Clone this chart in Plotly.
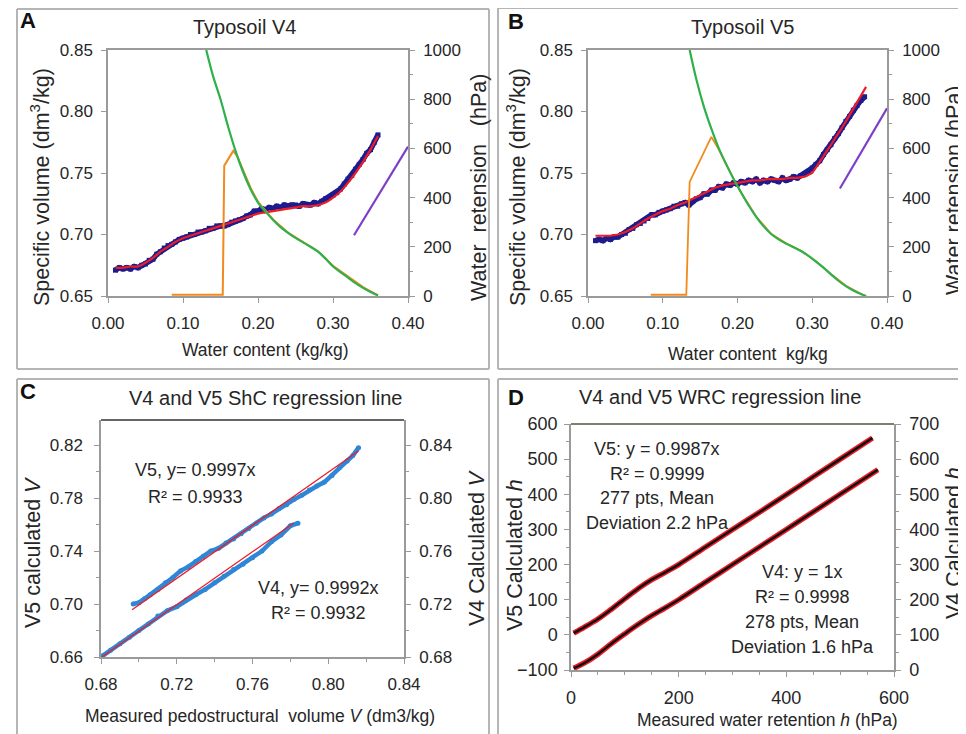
import plotly.graph_objects as go

W, H = 966, 734
OFF = 8  # the page body adds an 8px margin; reference pixel positions are shifted by it
FONT = "Liberation Sans, Arial, sans-serif"
TXT = "#262626"
AXC = "#9a9a9a"

# ---------------- Panel A (Typosoil V4) ----------------
A_fit_wc = [0.01, 0.02, 0.03, 0.04, 0.05, 0.06, 0.07, 0.08, 0.09, 0.10, 0.11, 0.12,
            0.13, 0.14, 0.15, 0.16, 0.17, 0.18, 0.19, 0.20, 0.21, 0.22, 0.23, 0.24,
            0.25, 0.26, 0.27, 0.28, 0.29, 0.30, 0.31, 0.32, 0.33, 0.34, 0.35, 0.36]
A_fit_vol = [0.673, 0.673, 0.674, 0.674, 0.677, 0.681, 0.686, 0.690, 0.694, 0.697, 0.699, 0.701,
             0.703, 0.705, 0.707, 0.709, 0.711, 0.713, 0.715, 0.717, 0.718, 0.719, 0.720, 0.721,
             0.722, 0.723, 0.723, 0.724, 0.726, 0.730, 0.735, 0.742, 0.750, 0.759, 0.769, 0.780]
A_meas_wc = [0.010, 0.015, 0.020, 0.025, 0.030, 0.035, 0.040, 0.045, 0.050, 0.055, 0.060, 0.065,
             0.070, 0.075, 0.080, 0.085, 0.090, 0.095, 0.100, 0.105, 0.110, 0.115, 0.120, 0.125,
             0.130, 0.135, 0.140, 0.145, 0.150, 0.155, 0.160, 0.165, 0.170, 0.175, 0.180, 0.185,
             0.190, 0.195, 0.200, 0.205, 0.210, 0.215, 0.220, 0.225, 0.230, 0.235, 0.240, 0.245,
             0.250, 0.255, 0.260, 0.265, 0.270, 0.275, 0.280, 0.285, 0.290, 0.295, 0.300, 0.305,
             0.310, 0.315, 0.320, 0.325, 0.330, 0.335, 0.340, 0.345, 0.350, 0.355, 0.360]
A_meas_vol = [0.671, 0.673, 0.672, 0.673, 0.672, 0.674, 0.673, 0.675, 0.676, 0.679, 0.680, 0.684,
              0.686, 0.689, 0.691, 0.692, 0.694, 0.696, 0.697, 0.698, 0.700, 0.700, 0.702, 0.702,
              0.703, 0.705, 0.705, 0.707, 0.707, 0.707, 0.708, 0.710, 0.711, 0.712, 0.713, 0.715,
              0.716, 0.719, 0.719, 0.721, 0.720, 0.722, 0.721, 0.723, 0.722, 0.724, 0.723, 0.724,
              0.724, 0.723, 0.725, 0.724, 0.724, 0.726, 0.725, 0.727, 0.729, 0.730, 0.732, 0.734,
              0.737, 0.741, 0.745, 0.748, 0.753, 0.757, 0.761, 0.766, 0.769, 0.775, 0.781]
A_wrc_wc = [0.131, 0.140, 0.150, 0.160, 0.170, 0.180, 0.190, 0.200, 0.210, 0.220, 0.230, 0.240,
            0.250, 0.260, 0.270, 0.280, 0.290, 0.300, 0.310, 0.320, 0.330, 0.340, 0.350, 0.360]
A_wrc_h = [1000, 895, 800, 690, 590, 505, 435, 380, 343, 310, 280, 257,
           236, 218, 200, 180, 152, 120, 97, 75, 52, 33, 16, 2]
A_or_wc = [0.085, 0.153, 0.155, 0.167, 0.172, 0.180, 0.190, 0.200, 0.210, 0.220, 0.240, 0.260,
           0.280, 0.300, 0.320, 0.340, 0.360]
A_or_h = [5, 5, 530, 590, 570, 515, 440, 383, 345, 311, 258, 219, 182, 123, 78, 36, 3]
A_pu_wc = [0.328, 0.400]
A_pu_h = [247, 607]

# ---------------- Panel B (Typosoil V5) ----------------
B_fit_wc = [0.01, 0.02, 0.03, 0.04, 0.05, 0.06, 0.07, 0.08, 0.09, 0.10, 0.11, 0.12, 0.13,
            0.14, 0.15, 0.16, 0.17, 0.18, 0.19, 0.20, 0.21, 0.22, 0.23, 0.24, 0.25, 0.26,
            0.27, 0.28, 0.29, 0.30, 0.31, 0.32, 0.33, 0.34, 0.35, 0.36, 0.372]
B_fit_vol = [0.699, 0.699, 0.699, 0.700, 0.702, 0.705, 0.709, 0.713, 0.716, 0.719, 0.721, 0.724, 0.726,
             0.729, 0.732, 0.735, 0.738, 0.740, 0.741, 0.742, 0.743, 0.744, 0.744, 0.745, 0.745, 0.745,
             0.746, 0.746, 0.747, 0.750, 0.759, 0.768, 0.777, 0.787, 0.797, 0.807, 0.820]
B_meas_wc = [0.010, 0.015, 0.020, 0.025, 0.030, 0.035, 0.040, 0.045, 0.050, 0.055, 0.060, 0.065,
             0.070, 0.075, 0.080, 0.085, 0.090, 0.095, 0.100, 0.105, 0.110, 0.115, 0.120, 0.125,
             0.130, 0.135, 0.140, 0.145, 0.150, 0.155, 0.160, 0.165, 0.170, 0.175, 0.180, 0.185,
             0.190, 0.195, 0.200, 0.205, 0.210, 0.215, 0.220, 0.225, 0.230, 0.235, 0.240, 0.245,
             0.250, 0.255, 0.260, 0.265, 0.270, 0.275, 0.280, 0.285, 0.290, 0.295, 0.300, 0.305,
             0.310, 0.315, 0.320, 0.325, 0.330, 0.335, 0.340, 0.345, 0.350, 0.355, 0.360, 0.365,
             0.370]
B_meas_vol = [0.695, 0.696, 0.695, 0.697, 0.696, 0.698, 0.698, 0.700, 0.701, 0.704, 0.705, 0.708,
              0.709, 0.711, 0.713, 0.716, 0.716, 0.718, 0.719, 0.720, 0.721, 0.723, 0.723, 0.725,
              0.726, 0.724, 0.727, 0.729, 0.730, 0.733, 0.733, 0.736, 0.736, 0.739, 0.738, 0.741,
              0.740, 0.742, 0.741, 0.743, 0.742, 0.744, 0.743, 0.745, 0.742, 0.744, 0.743, 0.745,
              0.744, 0.743, 0.746, 0.744, 0.745, 0.747, 0.746, 0.748, 0.749, 0.751, 0.754, 0.757,
              0.760, 0.765, 0.769, 0.773, 0.778, 0.782, 0.787, 0.792, 0.796, 0.801, 0.805, 0.809,
              0.812]
B_wrc_wc = [0.136, 0.145, 0.155, 0.165, 0.175, 0.185, 0.195, 0.205, 0.215, 0.225, 0.235, 0.245,
            0.255, 0.265, 0.275, 0.285, 0.295, 0.305, 0.315, 0.325, 0.335, 0.345, 0.355, 0.365, 0.372]
B_wrc_h = [1000, 880, 770, 680, 600, 535, 475, 420, 368, 322, 283, 252,
           230, 213, 198, 183, 163, 140, 115, 88, 62, 40, 22, 8, 0]
B_or_wc = [0.084, 0.1315, 0.136, 0.165, 0.175, 0.185, 0.195, 0.205, 0.225, 0.245, 0.265, 0.285,
           0.305, 0.325, 0.345, 0.365, 0.372]
B_or_h = [5, 5, 464, 647, 595, 533, 474, 420, 323, 253, 214, 184, 141, 90, 42, 9, 0]
B_pu_wc = [0.337, 0.400]
B_pu_h = [437, 763]

# ---------------- Panel C (ShC regression) ----------------
C_v5_meas = [0.697, 0.700, 0.703, 0.706, 0.710, 0.714, 0.718, 0.722, 0.726, 0.730, 0.734, 0.738,
             0.742, 0.746, 0.750, 0.754, 0.758, 0.762, 0.766, 0.770, 0.774, 0.778, 0.782, 0.786,
             0.790, 0.794, 0.798, 0.802, 0.806, 0.810, 0.813, 0.816]
C_v5_calc = [0.700, 0.701, 0.704, 0.707, 0.711, 0.716, 0.720, 0.725, 0.728, 0.732, 0.736, 0.740,
             0.742, 0.746, 0.749, 0.753, 0.757, 0.761, 0.765, 0.768, 0.772, 0.775, 0.779, 0.782,
             0.786, 0.789, 0.792, 0.797, 0.803, 0.808, 0.812, 0.818]
C_v4_meas = [0.681, 0.685, 0.690, 0.695, 0.700, 0.705, 0.710, 0.715, 0.720, 0.725, 0.730, 0.735,
             0.740, 0.745, 0.750, 0.755, 0.760, 0.765, 0.770, 0.775, 0.780, 0.784]
C_v4_calc = [0.681, 0.685, 0.690, 0.695, 0.700, 0.705, 0.711, 0.715, 0.718, 0.723, 0.727, 0.731,
             0.736, 0.741, 0.746, 0.750, 0.755, 0.760, 0.767, 0.772, 0.779, 0.781]
C_v5_reg_x = [0.6964, 0.8160]
C_v5_reg_y = [0.6957, 0.8155]
C_v4_reg_x = [0.6805, 0.7816]
C_v4_reg_y = [0.6800, 0.7810]

# ---------------- Panel D (WRC regression) ----------------
D_v5_meas = [5, 25, 50, 75, 100, 125, 150, 175, 200, 250, 300, 350, 400, 450, 500, 560]
D_v5_calc = [5, 22, 45, 73, 103, 132, 157, 178, 200, 250, 300, 349, 399, 450, 500, 560]
D_v4_meas = [5, 25, 50, 75, 100, 125, 150, 175, 200, 250, 300, 350, 400, 450, 500, 570]
D_v4_calc = [5, 20, 45, 75, 103, 130, 155, 177, 200, 250, 300, 350, 400, 450, 500, 570]

NAVY = "#1c1c8e"
RED = "#ee1c25"
GREEN = "#2eb04a"
ORANGE = "#f28a1e"
PURPLE = "#7d3fc6"
LBLUE = "#2f86d6"


def px(x):
    return (x - OFF) / W


def py(y):
    return 1 - (y - OFF) / H


fig = go.Figure()

# Panel A traces
fig.add_trace(go.Scatter(x=A_or_wc, y=A_or_h, mode="lines", line=dict(color=ORANGE, width=2),
                         xaxis="x", yaxis="y2"))
fig.add_trace(go.Scatter(x=A_meas_wc, y=A_meas_vol, mode="lines+markers",
                         line=dict(color=NAVY, width=5.5), marker=dict(color=NAVY, size=5, symbol="square"),
                         xaxis="x", yaxis="y"))
fig.add_trace(go.Scatter(x=A_fit_wc, y=A_fit_vol, mode="lines", line=dict(color=RED, width=2.2, shape="spline"),
                         xaxis="x", yaxis="y"))
fig.add_trace(go.Scatter(x=A_wrc_wc, y=A_wrc_h, mode="lines", line=dict(color=GREEN, width=2.2, shape="spline"),
                         xaxis="x", yaxis="y2"))
fig.add_trace(go.Scatter(x=A_pu_wc, y=A_pu_h, mode="lines", line=dict(color=PURPLE, width=2.2),
                         xaxis="x", yaxis="y2"))

# Panel B traces
fig.add_trace(go.Scatter(x=B_or_wc, y=B_or_h, mode="lines", line=dict(color=ORANGE, width=1.8),
                         xaxis="x2", yaxis="y4"))
fig.add_trace(go.Scatter(x=B_meas_wc, y=B_meas_vol, mode="lines+markers",
                         line=dict(color=NAVY, width=5.5), marker=dict(color=NAVY, size=5, symbol="square"),
                         xaxis="x2", yaxis="y3"))
fig.add_trace(go.Scatter(x=B_fit_wc, y=B_fit_vol, mode="lines", line=dict(color=RED, width=2.2),
                         xaxis="x2", yaxis="y3"))
fig.add_trace(go.Scatter(x=B_wrc_wc, y=B_wrc_h, mode="lines", line=dict(color=GREEN, width=2.2, shape="spline"),
                         xaxis="x2", yaxis="y4"))
fig.add_trace(go.Scatter(x=B_pu_wc, y=B_pu_h, mode="lines", line=dict(color=PURPLE, width=2.2),
                         xaxis="x2", yaxis="y4"))

# Panel C traces
fig.add_trace(go.Scatter(x=C_v5_meas, y=C_v5_calc, mode="lines+markers",
                         line=dict(color=LBLUE, width=4.5), marker=dict(color=LBLUE, size=5),
                         xaxis="x3", yaxis="y5"))
fig.add_trace(go.Scatter(x=C_v4_meas, y=C_v4_calc, mode="lines+markers",
                         line=dict(color=LBLUE, width=4.5), marker=dict(color=LBLUE, size=5),
                         xaxis="x3", yaxis="y6"))
fig.add_trace(go.Scatter(x=C_v5_reg_x, y=C_v5_reg_y, mode="lines", line=dict(color=RED, width=1.3),
                         xaxis="x3", yaxis="y5"))
fig.add_trace(go.Scatter(x=C_v4_reg_x, y=C_v4_reg_y, mode="lines", line=dict(color=RED, width=1.3),
                         xaxis="x3", yaxis="y6"))

# Panel D traces
fig.add_trace(go.Scatter(x=D_v5_meas, y=D_v5_calc, mode="lines", line=dict(color=RED, width=5.5, shape="spline"),
                         xaxis="x4", yaxis="y7"))
fig.add_trace(go.Scatter(x=D_v5_meas, y=D_v5_calc, mode="lines", line=dict(color="#111111", width=2.5, shape="spline"),
                         xaxis="x4", yaxis="y7"))
fig.add_trace(go.Scatter(x=D_v4_meas, y=D_v4_calc, mode="lines", line=dict(color=RED, width=5.5, shape="spline"),
                         xaxis="x4", yaxis="y8"))
fig.add_trace(go.Scatter(x=D_v4_meas, y=D_v4_calc, mode="lines", line=dict(color="#111111", width=2.5, shape="spline"),
                         xaxis="x4", yaxis="y8"))


def ax(domain, rng, dtick, fmt=None, minor=None, tick0=None, standoff=5, **kw):
    d = dict(domain=domain, range=rng, dtick=dtick, showgrid=False, zeroline=False,
             showline=True, linecolor=AXC, linewidth=1.5, ticks="outside", ticklen=5,
             tickcolor=AXC, tickwidth=1.2, layer="below traces", ticklabelstandoff=standoff,
             tickfont=dict(family=FONT, size=17, color=TXT), fixedrange=True)
    if tick0 is not None:
        d["tick0"] = tick0
    if fmt:
        d["tickformat"] = fmt
    if minor:
        d["minor"] = dict(dtick=minor, ticks="outside", ticklen=3, tickcolor=AXC, tickwidth=1)
    d.update(kw)
    return d


dxA = [px(108), px(408)]
dyA = [py(296), py(50)]
dxB = [px(588), px(887)]
dxC = [px(101), px(404)]
dyC = [py(657), py(420)]
dxD = [px(571), px(894)]
dyD = [py(670), py(424)]

c_top_left = 0.66 + (657 - 420) / (212 / 0.16)
F18 = dict(family=FONT, size=18, color=TXT)

layout = dict(
    width=W, height=H, margin=dict(l=0, r=0, t=0, b=0, autoexpand=False),
    paper_bgcolor="white", plot_bgcolor="white", showlegend=False,
    font=dict(family=FONT, color=TXT),
    xaxis=ax(dxA, [0, 0.4], 0.1, ".2f", anchor="y", mirror=True, standoff=6),
    yaxis=ax(dyA, [0.65, 0.85], 0.05, ".2f", anchor="x"),
    yaxis2=ax(dyA, [0, 1000], 200, None, 100, anchor="x", overlaying="y", side="right"),
    xaxis2=ax(dxB, [0, 0.4], 0.1, ".2f", anchor="y3", mirror=True, standoff=6),
    yaxis3=ax(dyA, [0.65, 0.85], 0.05, ".2f", anchor="x2"),
    yaxis4=ax(dyA, [0, 1000], 200, None, 100, anchor="x2", overlaying="y3", side="right"),
    xaxis3=ax(dxC, [0.68, 0.84], 0.04, ".2f", 0.02, tick0=0.68, anchor="y5", standoff=6),
    yaxis5=ax(dyC, [0.66, c_top_left], 0.04, ".2f", 0.02, tick0=0.66, anchor="x3", standoff=8),
    yaxis6=ax(dyC, [0.68, c_top_left + 0.02], 0.04, ".2f", 0.02, tick0=0.68, anchor="x3",
              overlaying="y5", side="right"),
    xaxis4=ax(dxD, [0, 600], 200, None, 50, anchor="y7", tickfont=F18, standoff=6),
    yaxis7=ax(dyD, [-100, 600], 100, None, 50, anchor="x4", tickfont=F18, standoff=3),
    yaxis8=ax(dyD, [0, 700], 100, None, 50, anchor="x4", overlaying="y7", side="right",
              tickfont=F18),
)
fig.update_layout(**layout)

shapes = []
BC = "#b5b5b5"


def hline(x0, x1, y, color=BC, w=2):
    shapes.append(dict(type="line", xref="paper", yref="paper", x0=px(x0), x1=px(x1), y0=py(y), y1=py(y),
                       line=dict(color=color, width=w)))


def vline(x, y0, y1, color=BC, w=2):
    shapes.append(dict(type="line", xref="paper", yref="paper", x0=px(x), x1=px(x), y0=py(y0), y1=py(y1),
                       line=dict(color=color, width=w)))


# panel frames
hline(17, 489, 9); hline(17, 489, 369); vline(17, 9, 369); vline(489, 9, 369)
hline(498, 970, 8); hline(498, 970, 369); vline(498, 8, 369)
hline(17, 489, 379); vline(17, 379, 740); vline(489, 379, 740)
hline(498, 970, 379); vline(498, 379, 740)
# dark top frame lines in C and D
hline(101, 404, 420, color="#333333", w=1.5)
hline(571, 894, 424, color="#55553a", w=1.5)
fig.update_layout(shapes=shapes)

ann = []


def text(x, y, s, size=17, angle=0, bold=False, xanchor="center"):
    ann.append(dict(xref="paper", yref="paper", x=px(x), y=py(y), text=("<b>%s</b>" % s) if bold else s,
                    showarrow=False, textangle=angle, xanchor=xanchor, yanchor="middle",
                    font=dict(family=FONT, size=size, color="#111111" if bold else TXT)))


NB = "\u00a0"
VT = 21.5
# panel letters
text(28, 21, "A", 22, bold=True)
text(516, 22, "B", 22, bold=True)
text(28, 392, "C", 22, bold=True)
text(516, 397, "D", 22, bold=True)
# titles
text(244, 27, "Typosoil V4", 20)
text(742, 27, "Typosoil V5", 20)
text(266, 398, "V4 and V5 ShC regression line", 20)
text(720, 397, "V4 and V5 WRC regression line", 20)
# panel A axis titles
text(40, 187, "Specific volume (dm<sup>3</sup>/kg)", VT, angle=-90)
text(479, 188, "Water" + NB + " retension" + NB + "  (hPa)", VT, angle=-90)
text(265, 350, "Water content (kg/kg)", 17.5)
# panel B axis titles
text(516, 187, "Specific volume (dm<sup>3</sup>/kg)", VT, angle=-90)
text(954, 190, "Water retension (hPa)", VT, angle=-90)
text(748, 354, "Water content" + NB + " kg/kg", 17.5)
# panel C axis titles
text(33, 552, "V5 calculated <i>V</i>", VT, angle=-90)
text(477, 548, "V4 Calculated <i>V</i>", VT, angle=-90)
text(260, 716, "Measured pedostructural" + NB + " volume <i>V</i> (dm3/kg)", 17.5)
# panel D axis titles
text(515, 555, "V5 Calculated <i>h</i>", VT, angle=-90)
text(954, 543, "V4 Calculated <i>h</i>", VT, angle=-90)
text(767, 720, "Measured water retention <i>h</i> (hPa)", 17.5)
# panel C equations
text(195, 470, "V5, y= 0.9997x", 18)
text(195, 497, "R\u00b2 = 0.9933", 18)
text(318, 588, "V4, y= 0.9992x", 18)
text(318, 613, "R\u00b2 = 0.9932", 18)
# panel D equations
for i, s in enumerate(["V5: y = 0.9987x", "R\u00b2 = 0.9999", "277 pts, Mean", "Deviation 2.2 hPa"]):
    text(657, 449 + i * 24.5, s, 18)
for i, s in enumerate(["V4: y = 1x", "R\u00b2 = 0.9998", "278 pts, Mean", "Deviation 1.6 hPa"]):
    text(802, 572 + i * 25, s, 18)

fig.update_layout(annotations=ann)
fig.write_html("out.html")
